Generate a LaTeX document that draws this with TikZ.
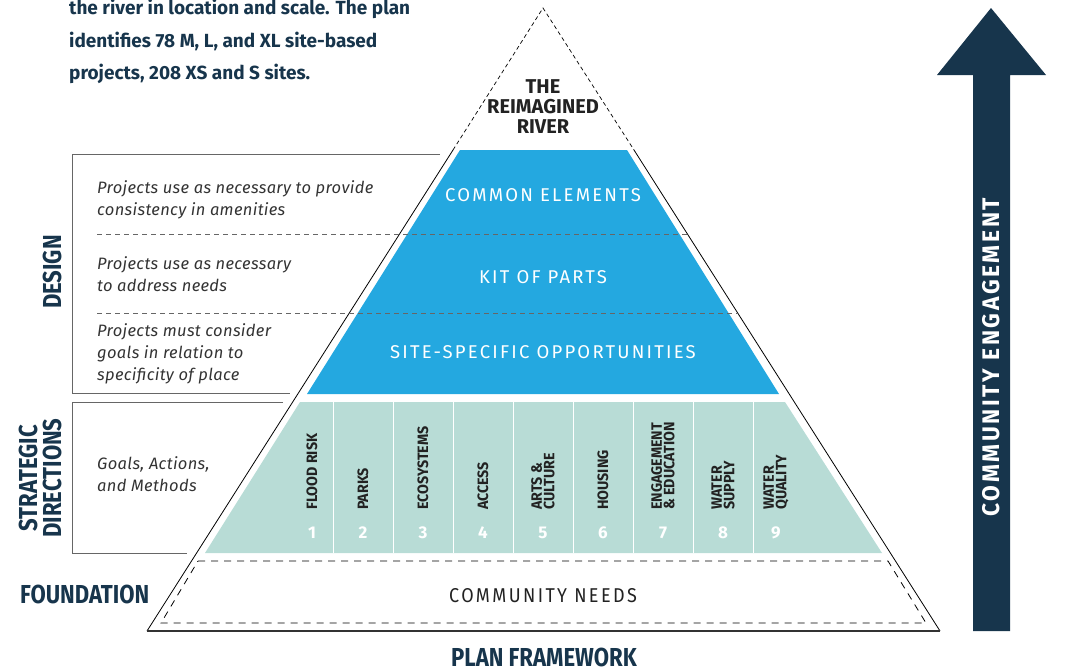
\documentclass[tikz,border=0pt]{standalone}
\usepackage{fontspec}
\setmainfont{Fira Sans}
\newfontfamily\condfont[FakeStretch=0.85]{Fira Sans}
\newfontfamily\colfont[FakeStretch=0.95]{Fira Sans}
\newfontfamily\notefont[LetterSpace=2]{Fira Sans}
\newfontfamily\spacedfont[LetterSpace=12]{Fira Sans}
\newfontfamily\spacedcond[FakeStretch=0.95,LetterSpace=11]{Fira Sans}
\newfontfamily\needsfont[FakeStretch=0.9,LetterSpace=12]{Fira Sans}
\definecolor{navy}{HTML}{17354C}
\definecolor{riverblue}{HTML}{24A8E0}
\definecolor{sage}{HTML}{B8DCD6}
\definecolor{textgray}{HTML}{333333}
\definecolor{linegray}{HTML}{666666}
\definecolor{labelgray}{HTML}{222222}
\tikzset{
	heading/.style={text=navy, font=\condfont\bfseries\fontsize{26}{24}\selectfont, inner sep=0pt},
	note/.style={text=textgray, font=\notefont\itshape\fontsize{16.5}{22}\selectfont, align=left, anchor=west, inner sep=0pt},
	bandlabel/.style={text=white, font=\spacedfont\fontsize{18.5}{20}\selectfont, inner sep=0pt},
	collabel/.style={text=labelgray, font=\colfont\bfseries\fontsize{15}{12.5}\selectfont, rotate=90, anchor=west, align=left, inner sep=0pt},
	colnumber/.style={text=white, font=\bfseries\fontsize{17}{17}\selectfont, inner sep=0pt},
	bracket/.style={draw=linegray, line width=0.9pt},
	guide/.style={draw=linegray, line width=0.8pt, dash pattern=on 5pt off 4pt}
}
\begin{document}
\begin{tikzpicture}[x=1pt, y=-1pt]
	\useasboundingbox (0,0) rectangle (1069,672);
	% Einleitungstext
	\node[anchor=north west, inner sep=0pt, align=left, text=navy, font=\bfseries\fontsize{19}{32.5}\selectfont] (intro) at (69,-1) {the river in location and scale. The plan\\identifies 78 M, L, and XL site-based\\projects, 208 XS and S sites.};

	% Pyramide aussen
	\draw[line width=0.7pt, dash pattern=on 4pt off 3pt] (453,150) -- (543,8) -- (634,150);
	\draw[line width=0.8pt] (453,150) -- (147,631);
	\draw[line width=0.8pt] (634,150) -- (940,631);
	\draw[line width=1.3pt, draw=black!80] (147,631) -- (940,631);
	\node[text=labelgray, font=\bfseries\fontsize{20}{20}\selectfont, align=center, inner sep=0pt] (river) at (543,107) {THE\\REIMAGINED\\RIVER};

	% Design-Ebenen
	\fill[riverblue] (460,150) -- (627,150) -- (779,394) -- (307,394) -- cycle;
	\draw[guide] (97,234) -- (688,234);
	\draw[guide] (97,313) -- (738,313);
	\node[bandlabel] (common) at (543,195) {COMMON ELEMENTS};
	\node[bandlabel] (kit) at (543,277) {KIT OF PARTS};
	\node[bandlabel] (site) at (543,352) {SITE-SPECIFIC OPPORTUNITIES};

	% Strategische Richtungen
	\fill[sage] (300,402) -- (785,402) -- (882,553) -- (205,553) -- cycle;
	\foreach \x in {333,393,...,753}
		\draw[white, line width=1pt] (\x,402) -- (\x,553);
	\foreach \x/\lbl/\n in {312/{FLOOD RISK}/1, 363/PARKS/2, 423/ECOSYSTEMS/3, 483/ACCESS/4, 543/{ARTS \&\\CULTURE}/5, 603/HOUSING/6, 663/{ENGAGEMENT\\\& EDUCATION}/7, 723/{WATER\\SUPPLY}/8, 776/{WATER\\QUALITY}/9} {
		\node[collabel] (col\n) at (\x,510) {\lbl};
		\node[colnumber] (num\n) at (\x,533) {\n};
	}

	% Fundament
	\draw[line width=0.8pt, dash pattern=on 7pt off 6pt] (198,561) -- (888,561) -- (926,623) -- (161,623) -- cycle;
	\node[text=labelgray, font=\needsfont\fontsize{20}{20}\selectfont, inner sep=0pt] (needs) at (543,596) {COMMUNITY NEEDS};

	% Klammern links
	\draw[bracket] (440,154) -- (72,154) -- (72,393) -- (290,393);
	\draw[bracket] (283,402) -- (72,402) -- (72,553) -- (187,553);
	\node[note] (note1) at (97,200) {Projects use as necessary to provide\\consistency in amenities};
	\node[note] (note2) at (97,274) {Projects use as necessary\\to address needs};
	\node[note] (note3) at (97,353.5) {Projects must consider\\goals in relation to\\specificity of place};
	\node[note] (note4) at (97,474) {Goals, Actions,\\and Methods};
	\node[heading, rotate=90] (design) at (52,272) {DESIGN};
	\node[heading, rotate=90, align=center] (strategic) at (40,478) {STRATEGIC\\DIRECTIONS};
	\node[heading, anchor=west] (foundation) at (20,594) {FOUNDATION};
	\node[heading, anchor=base] (framework) at (544,666) {PLAN FRAMEWORK};

	% Pfeil rechts
	\fill[navy] (973,631) -- (973,75) -- (937,75) -- (991,8) -- (1046,75) -- (1010,75) -- (1010,631) -- cycle;
	\node[text=white, font=\spacedcond\bfseries\fontsize{24}{24}\selectfont, rotate=90, inner sep=0pt] (engage) at (991,357) {COMMUNITY ENGAGEMENT};
\end{tikzpicture}
\end{document}
